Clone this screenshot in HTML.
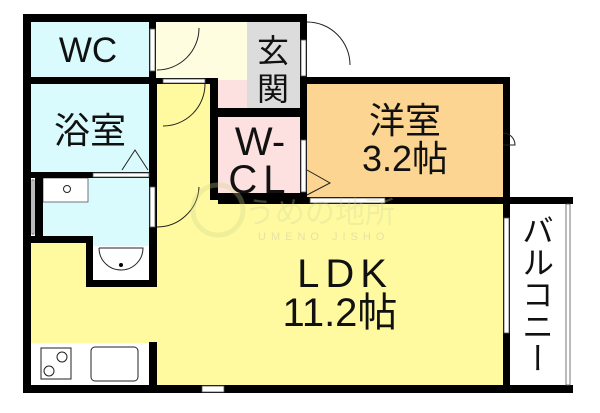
<!DOCTYPE html>
<html><head><meta charset="utf-8"><style>
html,body{margin:0;padding:0;background:#fff;width:600px;height:413px;overflow:hidden;position:relative}
svg{display:block}
text{font-family:"Liberation Sans","Noto Sans CJK JP",sans-serif;fill:#111}
.v{position:absolute;left:520px;top:214px;width:36px;writing-mode:vertical-rl;font-family:"Noto Sans CJK JP",sans-serif;font-size:32px;line-height:36px;color:#111;letter-spacing:0px}
</style></head><body>
<svg width="600" height="413" viewBox="0 0 600 413">
<!-- fills -->
<rect x="31" y="200" width="472" height="185" fill="#fffaa0"/>
<rect x="156" y="84" width="54" height="120" fill="#fffaa0"/>
<rect x="31" y="22" width="118" height="55" fill="#d9fbfd"/>
<rect x="156" y="22" width="91" height="58" fill="#fffde0"/>
<rect x="247" y="22" width="53" height="86" fill="#dcdcdc"/>
<rect x="218" y="80" width="29" height="28" fill="#fde0e0"/>
<rect x="218" y="117" width="82" height="76" fill="#fde0e0"/>
<rect x="31" y="84" width="118" height="88" fill="#d9fbfd"/>
<rect x="43" y="178" width="106" height="60" fill="#d9fbfd"/>
<rect x="93" y="238" width="56" height="8" fill="#d9fbfd"/>
<rect x="43" y="178" width="45" height="24" fill="#fff" stroke="#555" stroke-width="0.8"/>
<rect x="93" y="246" width="56" height="34" fill="#fff"/>
<rect x="31" y="178" width="12" height="58" fill="#fff"/>
<rect x="307" y="84" width="196" height="113" fill="#fbd591"/>
<rect x="31" y="343" width="118" height="42" fill="#fff"/>
<rect x="510" y="204" width="60" height="181" fill="#fff"/>
<!-- walls -->
<g fill="#000">
<rect x="23" y="14" width="284" height="8"/>
<rect x="23" y="14" width="8" height="379"/>
<rect x="35" y="178" width="8" height="58"/>
<rect x="23" y="385" width="550" height="8"/>
<rect x="149" y="22" width="7" height="58"/>
<rect x="23" y="77" width="133" height="7"/>
<rect x="156" y="78" width="62" height="6"/>
<rect x="210" y="78" width="8" height="122"/>
<rect x="210" y="108" width="97" height="9"/>
<rect x="300" y="22" width="7" height="178"/>
<rect x="300" y="77" width="210" height="7"/>
<rect x="503" y="77" width="7" height="316"/>
<rect x="210" y="193" width="97" height="7"/>
<rect x="218" y="197" width="355" height="7"/>
<rect x="149" y="84" width="8" height="203"/>
<rect x="23" y="172" width="126" height="6"/>
<rect x="23" y="236" width="70" height="7"/>
<rect x="86" y="236" width="7" height="51"/>
<rect x="86" y="280" width="71" height="7"/>
<rect x="149" y="342" width="8" height="43"/>
</g>
<!-- openings -->
<g fill="#fff" stroke="#555" stroke-width="0.8">
<rect x="163" y="79" width="42" height="4"/>
<rect x="93" y="173" width="56" height="4"/>
<rect x="310" y="198" width="75" height="5"/>
<rect x="504" y="218" width="5" height="115"/>
<rect x="202" y="386" width="22" height="6"/>
<rect x="301" y="40" width="5" height="36"/>
<rect x="301" y="140" width="5" height="52"/>
<rect x="150" y="187" width="5" height="40"/>
<rect x="150" y="29" width="5" height="42"/>
<rect x="566" y="204" width="4" height="181"/>
<rect x="32" y="180" width="2" height="54"/>
</g>
<!-- door arcs / fixtures -->
<g fill="none" stroke="#222" stroke-width="1">
<path d="M157 70 A42 42 0 0 0 199 28"/>
<path d="M163 126 A42 42 0 0 0 205 84"/>
<path d="M157 227 A42 42 0 0 0 199 187"/>
<path d="M307 22 A43 43 0 0 1 350 65"/>
<path d="M503 133 A12 12 0 0 1 515 145 L503 145"/>
<path d="M122 170 L135 150 L148 170"/>
<path d="M307 170 L330 183 L307 195"/>
<rect x="41" y="348" width="30" height="31"/>
<circle cx="62" cy="357" r="5"/><circle cx="49" cy="371" r="5"/>
<rect x="91" y="347" width="47" height="34" rx="4"/>
<path d="M99 248 L143 248 A22 22 0 0 1 99 248"/>
<circle cx="67" cy="189" r="3.5"/>
</g>
<circle cx="121" cy="265" r="2" fill="#000"/>
<!-- watermark -->
<g opacity="0.3">
<circle cx="218" cy="210" r="25" fill="none" stroke="#cfd68a" stroke-width="5"/>
<text x="245" y="223" font-size="30" style="fill:#cfd6a0">うめの地所</text>
<text x="258" y="240" font-size="11" letter-spacing="5" style="fill:#aab">UMENO JISHO</text>
</g>
<!-- labels -->
<text x="88" y="62" font-size="35" text-anchor="middle">WC</text>
<text x="90" y="143" font-size="36" text-anchor="middle">浴室</text>
<text x="273" y="62" font-size="32" text-anchor="middle">玄</text>
<text x="273" y="100" font-size="32" text-anchor="middle">関</text>
<text x="260" y="155" font-size="40" text-anchor="middle">W-</text>
<text x="260" y="193" font-size="40" text-anchor="middle" letter-spacing="6">CL</text>
<text x="405" y="133" font-size="36" text-anchor="middle">洋室</text>
<text x="405" y="171" font-size="36" text-anchor="middle">3.2帖</text>
<text x="345" y="287" font-size="40" text-anchor="middle" letter-spacing="6">LDK</text>
<text x="340" y="326" font-size="40" text-anchor="middle">11.2帖</text>
</svg>
<div class="v">バルコニー</div>
</body></html>
